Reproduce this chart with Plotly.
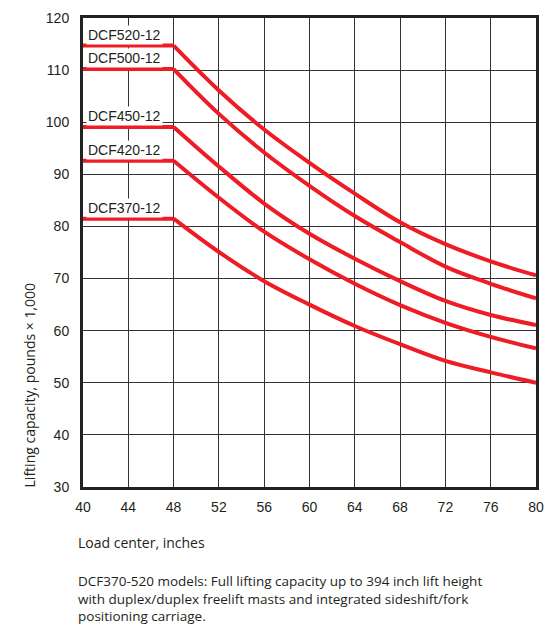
import plotly.graph_objects as go

load_center = [40, 48, 52, 56, 60, 64, 68, 72, 76, 80]
models = ["DCF520-12", "DCF500-12", "DCF450-12", "DCF420-12", "DCF370-12"]
dcf520 = [114.7, 114.7, 106.1, 98.6, 92.2, 86.3, 80.8, 76.6, 73.3, 70.6]
dcf500 = [110.2, 110.2, 101.6, 94.2, 87.8, 82.0, 77.0, 72.3, 69.0, 66.2]
dcf450 = [99.1, 99.1, 91.5, 84.4, 78.6, 73.8, 69.5, 65.7, 63.0, 61.1]
dcf420 = [92.6, 92.6, 85.5, 79.0, 73.7, 69.0, 64.9, 61.5, 58.8, 56.6]
dcf370 = [81.5, 81.5, 75.1, 69.5, 65.0, 60.9, 57.4, 54.2, 52.0, 50.0]
series = [dcf520, dcf500, dcf450, dcf420, dcf370]
x_ticks = [40, 44, 48, 52, 56, 60, 64, 68, 72, 76, 80]
y_ticks = [30, 40, 50, 60, 70, 80, 90, 100, 110, 120]
y_title = "Lifting capacity, pounds × 1,000"
x_title = "Load center, inches"
note_lines = ["DCF370-520 models: Full lifting capacity up to 394 inch lift height",
              "with duplex/duplex freelift masts and integrated sideshift/fork",
              "positioning carriage."]

RED = "#ee1c25"
TXT = "#231f20"
TICKFONT = "Liberation Sans, Arial"
BODYFONT = "Open Sans, Arial"

fig = go.Figure()

for name, vals in zip(models, series):
    fig.add_trace(go.Scatter(x=load_center[:2], y=vals[:2], mode="lines",
                             line=dict(color=RED, width=4), showlegend=False,
                             name=name, hoverinfo="skip"))
    fig.add_trace(go.Scatter(x=load_center[1:], y=vals[1:], mode="lines",
                             line=dict(color=RED, width=4, shape="spline", smoothing=1.0),
                             showlegend=False, name=name))
    fig.add_annotation(x=40, y=vals[0], xref="x", yref="y", text=name,
                       showarrow=False, xanchor="left", yanchor="bottom",
                       xshift=3, yshift=1, bgcolor="white", borderpad=1,
                       font=dict(family=TICKFONT, size=14, color=TXT))

axis_common = dict(showgrid=True, gridcolor="#333", gridwidth=1,
                   showline=True, linecolor="#222", linewidth=3, mirror=True,
                   ticks="", zeroline=False,
                   tickfont=dict(family=TICKFONT, size=14, color=TXT))
fig.update_xaxes(range=[40, 80], tickvals=x_ticks, ticktext=[str(v) for v in x_ticks],
                 ticklabelstandoff=5, **axis_common)
fig.update_yaxes(range=[30, 120], tickvals=y_ticks, ticktext=[str(v) for v in y_ticks],
                 ticklabelstandoff=8, **axis_common)

PLOT_W = 554 - 83 - 10

fig.add_annotation(x=-54 / PLOT_W, y=0, xref="paper", yref="paper", text=y_title,
                   textangle=-90, showarrow=False, xanchor="center", yanchor="bottom",
                   yshift=-2, font=dict(family=BODYFONT, size=14, color=TXT))

fig.add_annotation(x=0, y=0, xref="paper", yref="paper", text=x_title,
                   showarrow=False, xanchor="left", yanchor="middle", xshift=-7, yshift=-55,
                   font=dict(family=BODYFONT, size=14, color=TXT))
fig.add_annotation(x=0, y=0, xref="paper", yref="paper", text="<br>".join(note_lines),
                   showarrow=False, xanchor="left", yanchor="middle", align="left",
                   xshift=-7, yshift=-111,
                   font=dict(family=BODYFONT, size=13.5, color=TXT))

fig.update_layout(width=554, height=624, margin=dict(l=83, r=10, t=15, b=137),
                  plot_bgcolor="white", paper_bgcolor="white")

fig.write_html("out.html", config={"displayModeBar": False},
               post_script="document.body.style.margin='0';")
